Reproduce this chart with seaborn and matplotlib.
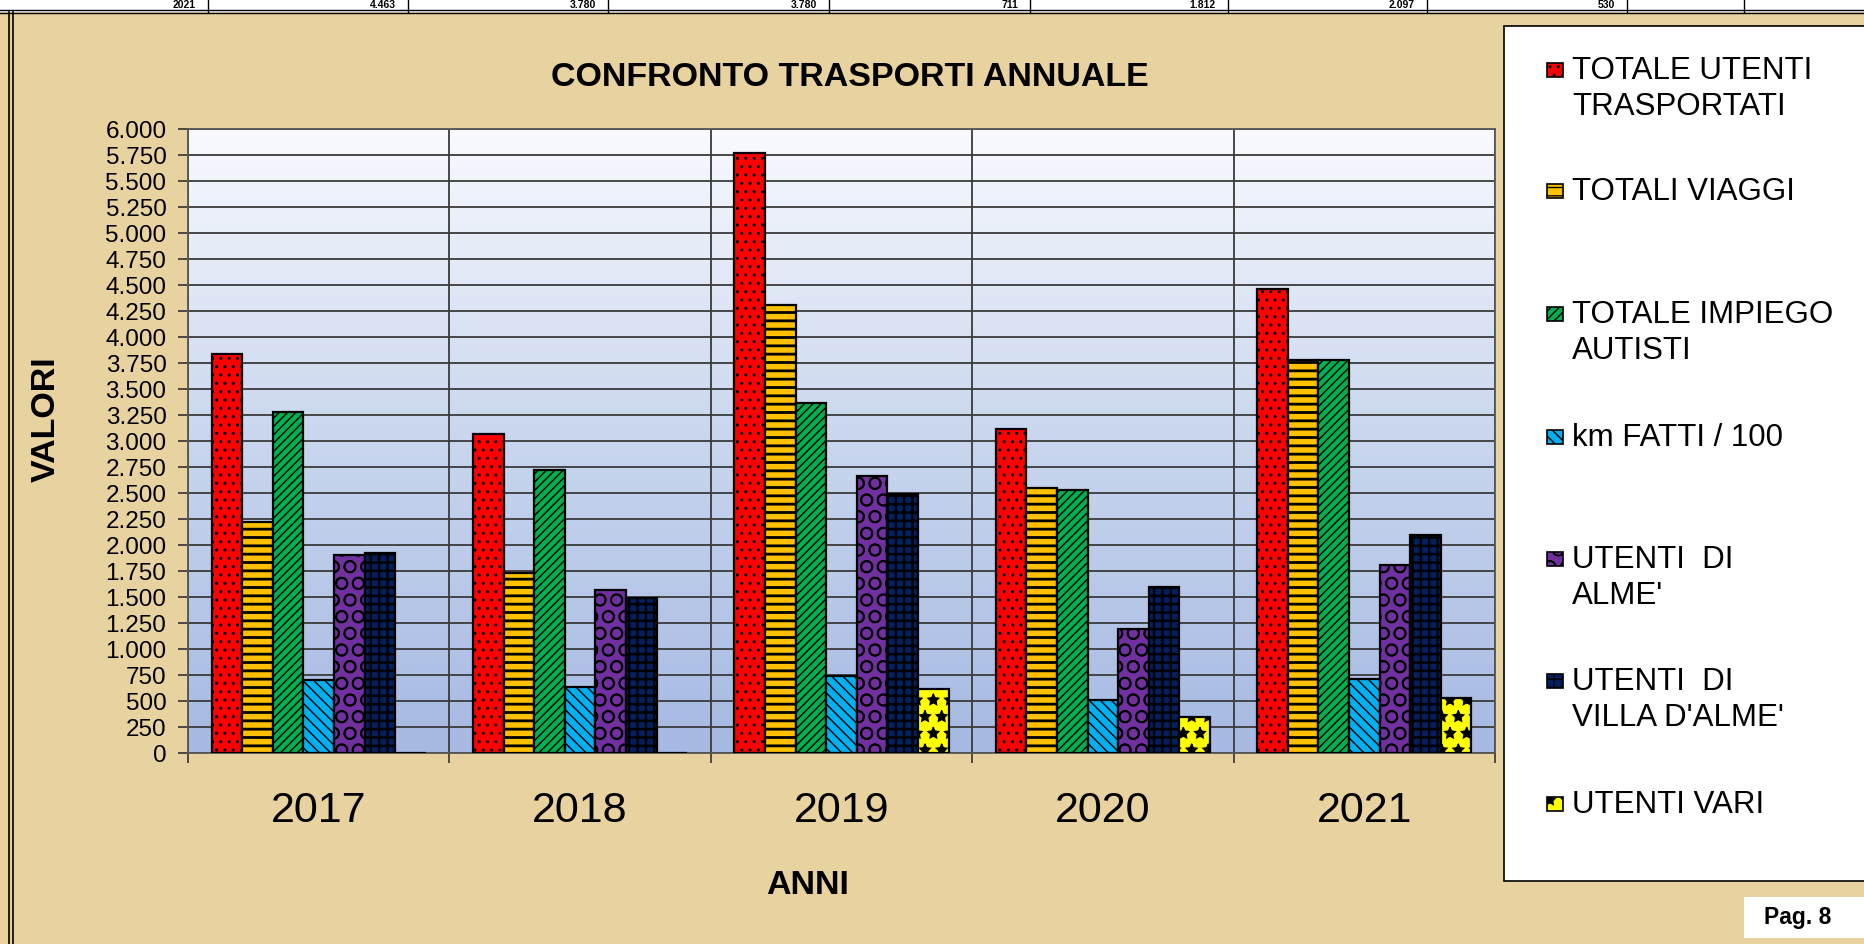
import numpy as np
import pandas as pd
import matplotlib
matplotlib.use("Agg")
import matplotlib.pyplot as plt
import seaborn as sns
from matplotlib.colors import LinearSegmentedColormap
from matplotlib.patches import Rectangle
from matplotlib.lines import Line2D
from matplotlib.ticker import FixedLocator, FuncFormatter

# ---------------- data ----------------
years = ["2017", "2018", "2019", "2020", "2021"]
series = ["TOTALE UTENTI\nTRASPORTATI", "TOTALI VIAGGI", "TOTALE IMPIEGO\nAUTISTI",
          "km FATTI / 100", "UTENTI  DI\nALME'", "UTENTI  DI\nVILLA D'ALME'", "UTENTI VARI"]
totale_utenti = [3835, 3065, 5772, 3120, 4463]
totali_viaggi = [2220, 1730, 4304, 2550, 3780]
impiego_autisti = [3280, 2720, 3370, 2527, 3780]
km_fatti_100 = [706, 637, 740, 512, 711]
utenti_alme = [1900, 1571, 2664, 1195, 1812]
utenti_villa = [1924, 1491, 2493, 1594, 2097]
utenti_vari = [0, 0, 615, 342, 530]
yticks = list(range(0, 6001, 250))
top_row = ["2021", "4.463", "3.780", "3.780", "711", "1.812", "2.097", "530"]

colors = ["#FF0000", "#FFC000", "#00B050", "#00B0F0", "#7030A0", "#002060", "#FFFF00"]
hatches = ["..", "--", "////", "\\\\\\", "O", "++", "*"]
hatch_lw = [1.0, 2.0, 1.0, 1.0, 1.2, 1.8, 1.0]

values = [totale_utenti, totali_viaggi, impiego_autisti, km_fatti_100,
          utenti_alme, utenti_villa, utenti_vari]
rows = []
for s, vals in zip(series, values):
    for y, v in zip(years, vals):
        rows.append({"anno": y, "serie": s, "valore": v})
df = pd.DataFrame(rows)

# ---------------- figure ----------------
W, H = 1864, 945
plt.rcParams["font.family"] = ["Liberation Sans", "DejaVu Sans"]
plt.rcParams["hatch.linewidth"] = 1.0
parch = "#E8D3A0"
fig = plt.figure(figsize=(W / 100, H / 100), dpi=100, facecolor=parch)

def fx(px):
    return px / W

def fy(py):
    return 1 - py / H

# top strip (table remnant)
fig.add_artist(Rectangle((0, fy(13)), 1, 13 / H, transform=fig.transFigure,
                         facecolor="white", edgecolor="none", zorder=0))
for yy in (11, 14):
    fig.add_artist(Line2D([0, 1], [fy(yy), fy(yy)], transform=fig.transFigure,
                          color="black", lw=1))
col_lines = [208, 408, 608, 829, 1030, 1228, 1427, 1627, 1744]
for xx in col_lines:
    fig.add_artist(Line2D([fx(xx), fx(xx)], [fy(13), 1], transform=fig.transFigure,
                          color="black", lw=1))
for txt, xx in zip(top_row, col_lines[:8]):
    fig.text(fx(xx - 12), fy(5.5), txt, ha="right", va="center",
             fontsize=7.5, fontweight="bold", color="black")
# left border double line
for xx in (9, 13):
    fig.add_artist(Line2D([fx(xx), fx(xx)], [0, fy(13)], transform=fig.transFigure,
                          color="black", lw=1.2))

# ---------------- axes ----------------
x0, x1, y0, y1 = 188, 1495, 130, 754
ax = fig.add_axes([fx(x0), fy(y1), (x1 - x0) / W, (y1 - y0) / H])
grad = LinearSegmentedColormap.from_list("g", ["#F8FAFE", "#C9D6EE", "#A5B9E2"])
ax.imshow(np.linspace(0, 1, 256).reshape(-1, 1), cmap=grad, aspect="auto",
          extent=(0, 1, 0, 1), transform=ax.transAxes, zorder=0.1, origin="upper")

sns.barplot(data=df, x="anno", y="valore", hue="serie", order=years, hue_order=series,
            palette=colors, width=0.82, saturation=1, edgecolor="black", linewidth=1.6,
            legend=False, ax=ax, zorder=3)
for i, cont in enumerate(ax.containers):
    for p in cont:
        p.set_hatch(hatches[i])
        p.set_edgecolor("black")
        if hasattr(p, "set_hatch_linewidth"):
            p.set_hatch_linewidth(hatch_lw[i])

ax.set_xlim(-0.5, 4.5)
ax.set_ylim(0, 6000)
ax.set_axisbelow(True)
ax.yaxis.set_major_locator(FixedLocator(yticks))
ax.yaxis.set_major_formatter(FuncFormatter(lambda v, _: f"{int(v):,}".replace(",", ".")))
ax.grid(axis="y", color="#3A3A3A", lw=1.3, zorder=0.5)
ax.xaxis.set_minor_locator(FixedLocator([-0.5, 0.5, 1.5, 2.5, 3.5, 4.5]))
ax.grid(axis="x", which="minor", color="#3A3A3A", lw=1.3, zorder=0.5)
ax.grid(axis="x", which="major", visible=False)
ax.tick_params(axis="y", which="major", length=7, width=1.2, color="#333333",
               labelsize=17.5, pad=8.5, labelcolor="black")
ax.tick_params(axis="x", which="major", length=0, labelsize=31, pad=27, labelcolor="black")
ax.tick_params(axis="x", which="minor", length=7, width=1.2, color="#333333")
ax.set_xlabel("")
ax.set_ylabel("")
for s in ax.spines.values():
    s.set_color("#555555")
    s.set_linewidth(1.3)

# titles
fig.text(fx(850), fy(77), "CONFRONTO TRASPORTI ANNUALE", ha="center", va="center",
         fontsize=24.5, fontweight="bold")
fig.text(fx(808), fy(886), "ANNI", ha="center", va="center", fontsize=24.5, fontweight="bold")
fig.text(fx(46), fy(419), "VALORI", ha="center", va="center", rotation=90,
         fontsize=24.5, fontweight="bold")

# ---------------- legend ----------------
fig.add_artist(Rectangle((fx(1504), fy(882)), (W - 1504 + 5) / W, (882 - 27) / H,
                         transform=fig.transFigure, facecolor="white",
                         edgecolor="black", lw=1.2, zorder=1))
first_line_y = [71, 192, 315, 438, 560, 682, 805]
line_gap = 36
for i, (lab, ly) in enumerate(zip(series, first_line_y)):
    r = Rectangle((fx(1547), fy(ly + 7)), 16 / W, 14 / H, transform=fig.transFigure,
                  facecolor=colors[i], edgecolor="black", lw=1.2, hatch=hatches[i], zorder=2)
    fig.add_artist(r)
    for k, line in enumerate(lab.split("\n")):
        fig.text(fx(1572), fy(ly + k * line_gap), line, ha="left", va="center",
                 fontsize=22.5, zorder=3)

# page box
fig.add_artist(Rectangle((fx(1744), fy(939)), (W - 1744 + 5) / W, 41 / H,
                         transform=fig.transFigure, facecolor="white",
                         edgecolor="none", zorder=1))
fig.text(fx(1798), fy(918), "Pag. 8", ha="center", va="center", fontsize=16.5,
         fontweight="bold", zorder=3)

fig.savefig("out.png", dpi=100, facecolor=parch)
